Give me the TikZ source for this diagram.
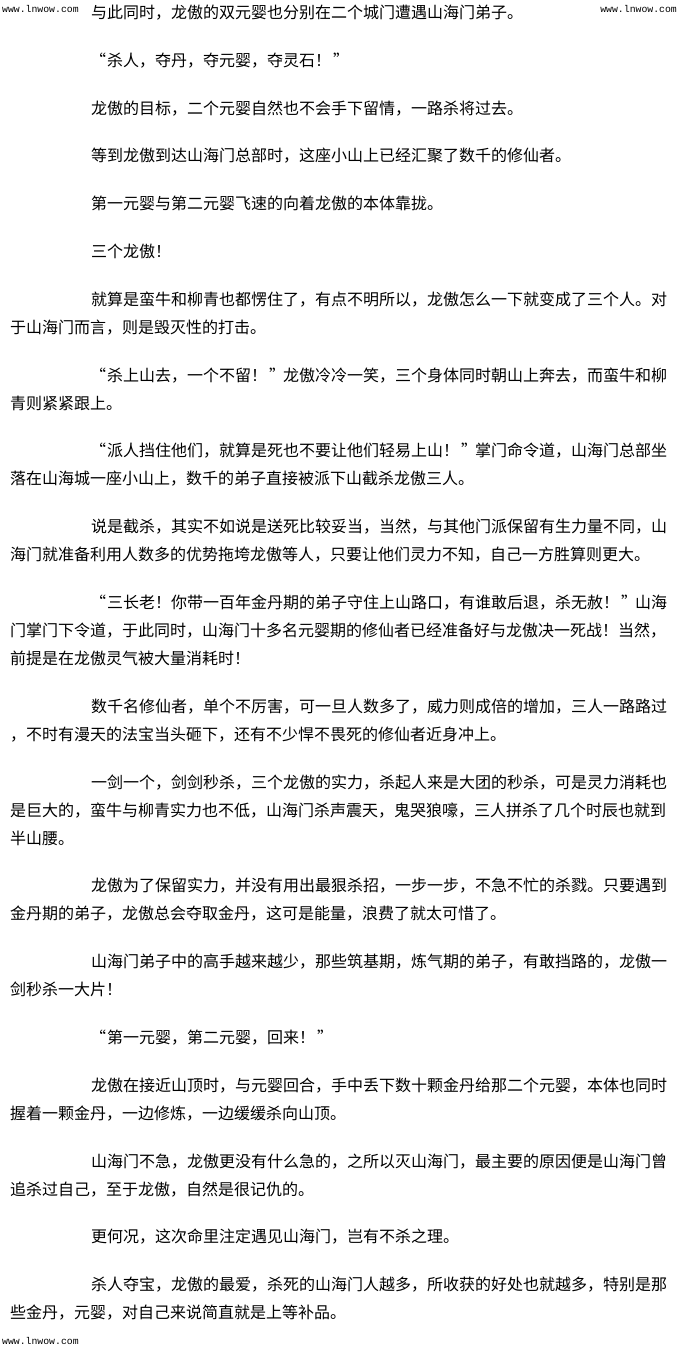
\documentclass[tikz,border=0pt]{standalone}
\usepackage{fontspec}
\newfontfamily\cjk{Noto Sans CJK SC}
\newfontfamily\wmfont{Liberation Mono}
\newcommand{\oq}{\makebox[16pt][r]{“\hspace{1pt}}}
\newcommand{\cq}{\makebox[16pt][l]{\hspace{2pt}”}}
\begin{document}
\begin{tikzpicture}[x=1pt,y=-1pt,
  txt/.style={anchor=west,inner sep=0pt,font=\cjk\fontsize{16}{16}\selectfont,text height=14.08pt,text depth=1.92pt},
  wmark/.style={inner sep=0pt,font=\wmfont\fontsize{9.8}{10}\selectfont}]
\fill[white] (0,0) rectangle (680,1351);
\useasboundingbox (0,0) rectangle (680,1351);
\node[wmark,anchor=west] (wm1) at (2,9) {www.lnwow.com};
\node[wmark,anchor=east] (wm2) at (677,9) {www.lnwow.com};
\node[wmark,anchor=west] (wm3) at (2,1341) {www.lnwow.com};
\node[txt] (t1) at (91,12.5) {与此同时，龙傲的双元婴也分别在二个城门遭遇山海门弟子。};
\node[txt] (t2) at (91,60.3) {\oq 杀人，夺丹，夺元婴，夺灵石！\cq};
\node[txt] (t3) at (91,108.1) {龙傲的目标，二个元婴自然也不会手下留情，一路杀将过去。};
\node[txt] (t4) at (91,155.9) {等到龙傲到达山海门总部时，这座小山上已经汇聚了数千的修仙者。};
\node[txt] (t5) at (91,203.7) {第一元婴与第二元婴飞速的向着龙傲的本体靠拢。};
\node[txt] (t6) at (91,251.5) {三个龙傲！};
\node[txt] (t7a) at (91,299.3) {就算是蛮牛和柳青也都愣住了，有点不明所以，龙傲怎么一下就变成了三个人。对};
\node[txt] (t7b) at (10,327.3) {于山海门而言，则是毁灭性的打击。};
\node[txt] (t8a) at (91,375.1) {\oq 杀上山去，一个不留！\cq 龙傲冷冷一笑，三个身体同时朝山上奔去，而蛮牛和柳};
\node[txt] (t8b) at (10,403.1) {青则紧紧跟上。};
\node[txt] (t9a) at (91,450.9) {\oq 派人挡住他们，就算是死也不要让他们轻易上山！\cq 掌门命令道，山海门总部坐};
\node[txt] (t9b) at (10,478.9) {落在山海城一座小山上，数千的弟子直接被派下山截杀龙傲三人。};
\node[txt] (t10a) at (91,526.7) {说是截杀，其实不如说是送死比较妥当，当然，与其他门派保留有生力量不同，山};
\node[txt] (t10b) at (10,554.7) {海门就准备利用人数多的优势拖垮龙傲等人，只要让他们灵力不知，自己一方胜算则更大。};
\node[txt] (t11a) at (91,602.5) {\oq 三长老！你带一百年金丹期的弟子守住上山路口，有谁敢后退，杀无赦！\cq 山海};
\node[txt] (t11b) at (10,630.5) {门掌门下令道，于此同时，山海门十多名元婴期的修仙者已经准备好与龙傲决一死战！当然，};
\node[txt] (t11c) at (10,658.5) {前提是在龙傲灵气被大量消耗时！};
\node[txt] (t12a) at (91,706.3) {数千名修仙者，单个不厉害，可一旦人数多了，威力则成倍的增加，三人一路路过};
\node[txt] (t12b) at (10,734.3) {，不时有漫天的法宝当头砸下，还有不少悍不畏死的修仙者近身冲上。};
\node[txt] (t13a) at (91,782.1) {一剑一个，剑剑秒杀，三个龙傲的实力，杀起人来是大团的秒杀，可是灵力消耗也};
\node[txt] (t13b) at (10,810.1) {是巨大的，蛮牛与柳青实力也不低，山海门杀声震天，鬼哭狼嚎，三人拼杀了几个时辰也就到};
\node[txt] (t13c) at (10,838.1) {半山腰。};
\node[txt] (t14a) at (91,885.9) {龙傲为了保留实力，并没有用出最狠杀招，一步一步，不急不忙的杀戮。只要遇到};
\node[txt] (t14b) at (10,913.9) {金丹期的弟子，龙傲总会夺取金丹，这可是能量，浪费了就太可惜了。};
\node[txt] (t15a) at (91,961.7) {山海门弟子中的高手越来越少，那些筑基期，炼气期的弟子，有敢挡路的，龙傲一};
\node[txt] (t15b) at (10,989.7) {剑秒杀一大片！};
\node[txt] (t16) at (91,1037.5) {\oq 第一元婴，第二元婴，回来！\cq};
\node[txt] (t17a) at (91,1085.3) {龙傲在接近山顶时，与元婴回合，手中丢下数十颗金丹给那二个元婴，本体也同时};
\node[txt] (t17b) at (10,1113.3) {握着一颗金丹，一边修炼，一边缓缓杀向山顶。};
\node[txt] (t18a) at (91,1161.1) {山海门不急，龙傲更没有什么急的，之所以灭山海门，最主要的原因便是山海门曾};
\node[txt] (t18b) at (10,1189.1) {追杀过自己，至于龙傲，自然是很记仇的。};
\node[txt] (t19) at (91,1236.9) {更何况，这次命里注定遇见山海门，岂有不杀之理。};
\node[txt] (t20a) at (91,1284.7) {杀人夺宝，龙傲的最爱，杀死的山海门人越多，所收获的好处也就越多，特别是那};
\node[txt] (t20b) at (10,1312.7) {些金丹，元婴，对自己来说简直就是上等补品。};
\end{tikzpicture}
\end{document}
